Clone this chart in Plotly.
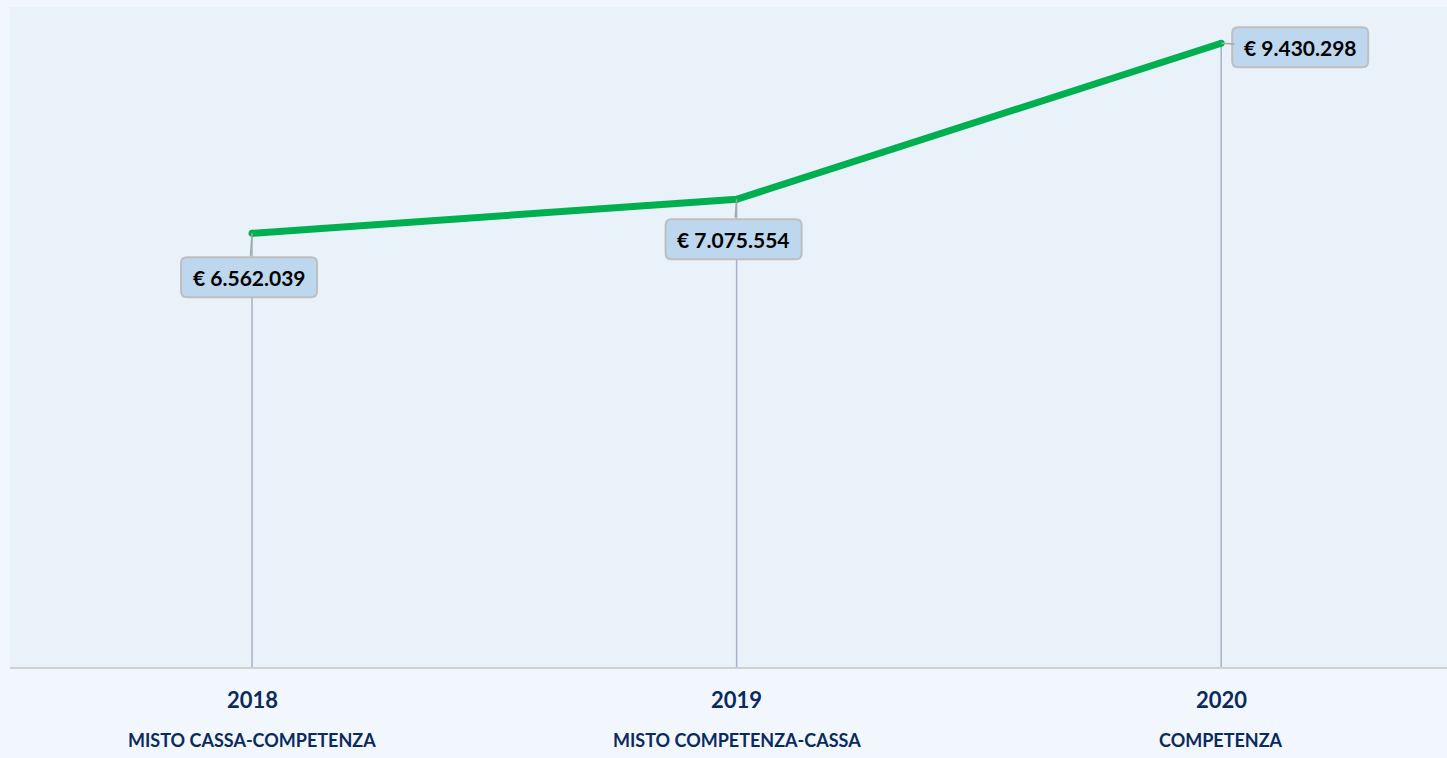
import plotly.graph_objects as go

years = ["2018", "2019", "2020"]
regimes = ["MISTO CASSA-COMPETENZA", "MISTO COMPETENZA-CASSA", "COMPETENZA"]
values = [6562039, 7075554, 9430298]
labels = ["€ 6.562.039", "€ 7.075.554", "€ 9.430.298"]
label_offsets = [(-3, 44), (-3, 40), (79, 4)]

xs = [0, 1, 2]
fig = go.Figure()

# drop lines
for x, v in zip(xs, values):
    fig.add_trace(go.Scatter(x=[x, x], y=[0, v], mode="lines",
                             line=dict(color="#A3B1CC", width=1.5),
                             hoverinfo="skip", showlegend=False))

fig.add_trace(go.Scatter(x=xs, y=values, mode="lines+markers",
                         line=dict(color="#00B050", width=7),
                         marker=dict(color="#00B050", size=7),
                         hoverinfo="skip", showlegend=False))


def rounded_box(cx, cy, w, h, r):
    x0, x1 = cx - w / 2, cx + w / 2
    y0, y1 = cy - h / 2, cy + h / 2
    return (f"M {x0 + r},{y0} H {x1 - r} Q {x1},{y0} {x1},{y0 + r} "
            f"V {y1 - r} Q {x1},{y1} {x1 - r},{y1} H {x0 + r} "
            f"Q {x0},{y1} {x0},{y1 - r} V {y0 + r} Q {x0},{y0} {x0 + r},{y0} Z")


shapes = []
for x, v, t, (ax, ay) in zip(xs, values, labels, label_offsets):
    shapes.append(dict(type="path", xref="x", yref="y", xsizemode="pixel",
                       ysizemode="pixel", xanchor=x, yanchor=v,
                       path=rounded_box(ax, -ay, 136, 40, 6),
                       fillcolor="#BDD7EE", line=dict(color="#BFBFBF", width=2),
                       layer="above"))
    fig.add_annotation(x=x, y=v, text="<b>" + t + "</b>", showarrow=True,
                       arrowhead=0, arrowwidth=1.5, arrowcolor="#A6A6A6",
                       ax=ax, ay=ay, bgcolor="rgba(0,0,0,0)",
                       bordercolor="rgba(0,0,0,0)",
                       borderwidth=2, borderpad=8,
                       font=dict(family="Lato", size=21, color="#000000"))

for x, yr, rg in zip(xs, years, regimes):
    fig.add_annotation(x=x, y=0, xref="x", yref="paper", yanchor="middle",
                       text="<b>" + yr + "</b>", showarrow=False, yshift=-31,
                       font=dict(family="Lato", size=22, color="#0B2A5E"))
    fig.add_annotation(x=x, y=0, xref="x", yref="paper", yanchor="middle",
                       text="<b>" + rg + "</b>", showarrow=False, yshift=-72,
                       font=dict(family="Lato", size=18, color="#0B2A5E"))

shapes.append(dict(type="line", xref="paper", yref="paper", x0=0, x1=1, y0=0, y1=0,
                   line=dict(color="#D0D0D0", width=2)))

fig.update_layout(
    width=1447, height=758,
    margin=dict(l=10, r=0, t=7, b=90),
    paper_bgcolor="#F2F7FD", plot_bgcolor="#E9F1F9",
    xaxis=dict(range=[-0.4995, 2.466], showgrid=False, zeroline=False,
               showticklabels=False, showline=False),
    yaxis=dict(range=[0, 9978000], showgrid=False, zeroline=False,
               showticklabels=False, showline=False),
    shapes=shapes,
)

fig.write_html("out.html", config={"displayModeBar": False},
               post_script="document.body.style.margin='0';document.body.style.overflow='hidden';")
